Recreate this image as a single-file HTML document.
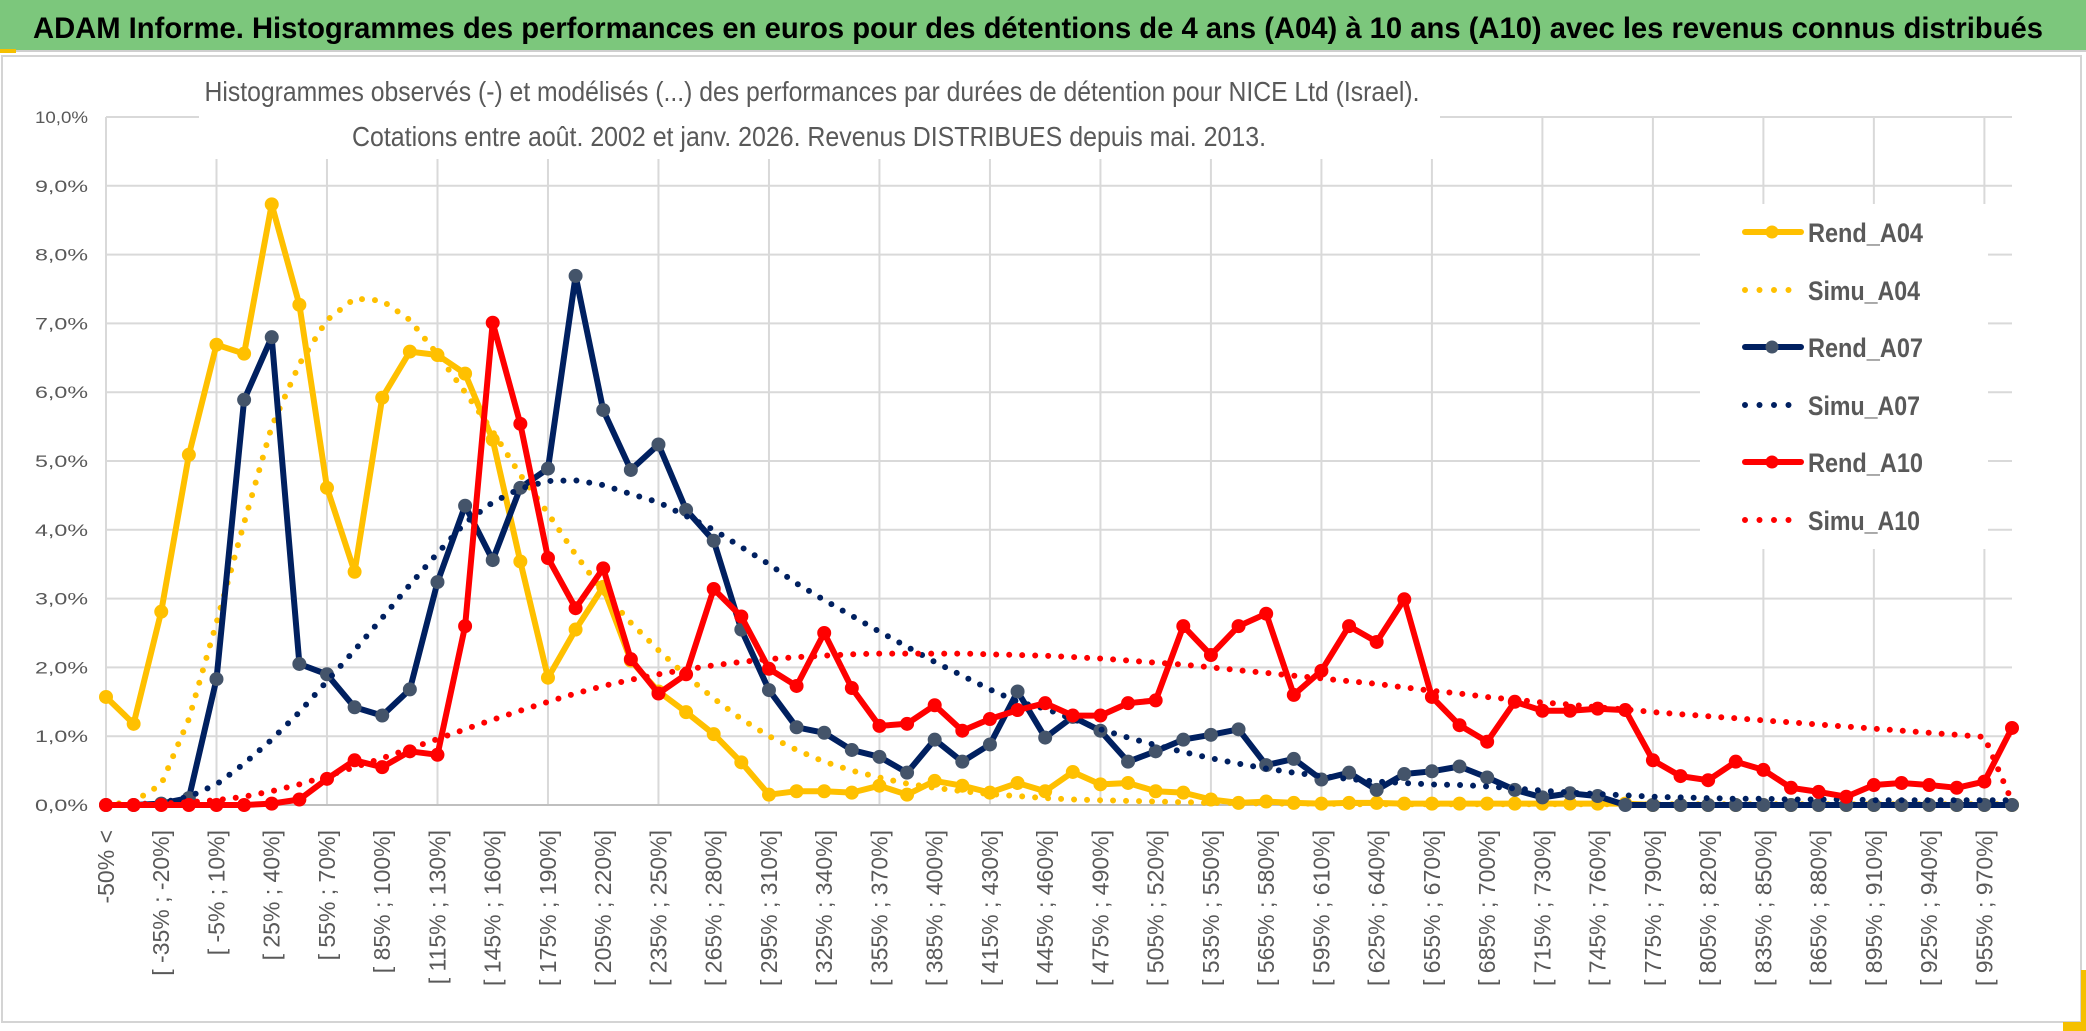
<!DOCTYPE html>
<html><head><meta charset="utf-8"><style>
html,body{margin:0;padding:0;background:#fff;}
svg{display:block;font-family:"Liberation Sans",sans-serif;}
</style></head><body>
<svg id="chart" width="2086" height="1031" viewBox="0 0 2086 1031" xmlns="http://www.w3.org/2000/svg">
<rect x="0" y="0" width="2086" height="1031" fill="#fff"/>
<rect x="0" y="0" width="2086" height="50" fill="#7cc77c"/>
<line x1="0" y1="51" x2="2086" y2="51" stroke="#cfcfcf" stroke-width="2"/>
<rect x="0" y="49" width="16" height="4" fill="#f5c000"/>
<text x="33" y="38" font-size="30" font-weight="bold" fill="#000" textLength="2010" lengthAdjust="spacingAndGlyphs">ADAM Informe. Histogrammes des performances en euros pour des détentions de 4 ans (A04) à 10 ans (A10) avec les revenus connus distribués</text>
<rect x="2" y="56" width="2079" height="966" fill="none" stroke="#d4d4d4" stroke-width="2"/>
<rect x="2081" y="970" width="5" height="58" fill="#f5c000"/>
<rect x="2063" y="1022" width="23" height="9" fill="#f5c000"/>
<g id="grid"></g>
<g id="yaxis"></g>
<g id="xaxis"></g>
<g id="series"></g>
<rect x="199" y="98" width="1241" height="61" fill="#fff"/>
<text x="812" y="101" font-size="28" fill="#595959" text-anchor="middle" textLength="1215" lengthAdjust="spacingAndGlyphs">Histogrammes observés (-) et modélisés (...) des performances par durées de détention pour NICE Ltd (Israel).</text>
<text x="809" y="146" font-size="28" fill="#595959" text-anchor="middle" textLength="914" lengthAdjust="spacingAndGlyphs">Cotations entre août. 2002 et janv. 2026. Revenus DISTRIBUES depuis mai. 2013.</text>
<rect x="1700" y="204" width="288" height="345" fill="#fff"/>
<g id="legend"></g>
</svg>
<script>
const categories = ["-50% <","[ -50% ; -35%]","[ -35% ; -20%]","[ -20% ; -5%]","[ -5% ; 10%]","[ 10% ; 25%]","[ 25% ; 40%]","[ 40% ; 55%]","[ 55% ; 70%]","[ 70% ; 85%]",
"[ 85% ; 100%]","[ 100% ; 115%]","[ 115% ; 130%]","[ 130% ; 145%]","[ 145% ; 160%]","[ 160% ; 175%]","[ 175% ; 190%]","[ 190% ; 205%]","[ 205% ; 220%]","[ 220% ; 235%]",
"[ 235% ; 250%]","[ 250% ; 265%]","[ 265% ; 280%]","[ 280% ; 295%]","[ 295% ; 310%]","[ 310% ; 325%]","[ 325% ; 340%]","[ 340% ; 355%]","[ 355% ; 370%]","[ 370% ; 385%]",
"[ 385% ; 400%]","[ 400% ; 415%]","[ 415% ; 430%]","[ 430% ; 445%]","[ 445% ; 460%]","[ 460% ; 475%]","[ 475% ; 490%]","[ 490% ; 505%]","[ 505% ; 520%]","[ 520% ; 535%]",
"[ 535% ; 550%]","[ 550% ; 565%]","[ 565% ; 580%]","[ 580% ; 595%]","[ 595% ; 610%]","[ 610% ; 625%]","[ 625% ; 640%]","[ 640% ; 655%]","[ 655% ; 670%]","[ 670% ; 685%]",
"[ 685% ; 700%]","[ 700% ; 715%]","[ 715% ; 730%]","[ 730% ; 745%]","[ 745% ; 760%]","[ 760% ; 775%]","[ 775% ; 790%]","[ 790% ; 805%]","[ 805% ; 820%]","[ 820% ; 835%]",
"[ 835% ; 850%]","[ 850% ; 865%]","[ 865% ; 880%]","[ 880% ; 895%]","[ 895% ; 910%]","[ 910% ; 925%]","[ 925% ; 940%]","[ 940% ; 955%]","[ 955% ; 970%]","> 970%"];
const yTicks = [0,1,2,3,4,5,6,7,8,9,10];
const yTickLabels = ["0,0%","1,0%","2,0%","3,0%","4,0%","5,0%","6,0%","7,0%","8,0%","9,0%","10,0%"];
const rendA04 = [1.57,1.18,2.81,5.09,6.69,6.56,8.73,7.27,4.61,3.39,5.92,6.59,6.54,6.27,5.31,3.54,1.85,2.55,3.17,2.10,1.65,1.35,1.03,0.62,0.15,0.20,0.20,0.18,0.28,0.15,0.35,0.28,0.18,0.32,0.20,0.48,0.30,0.32,0.20,0.18,0.08,0.03,0.05,0.03,0.02,0.03,0.03,0.02,0.02,0.02,0.02,0.02,0.02,0.02,0.02,0.02,0,0,0,0,0,0,0,0,0,0,0,0,0,0];
const simuA04 = [0.00,0.05,0.30,1.25,2.65,4.10,5.50,6.41,7.05,7.36,7.33,7.05,6.55,6.00,5.43,4.80,4.24,3.64,3.10,2.65,2.25,1.88,1.55,1.25,1.00,0.80,0.63,0.50,0.40,0.31,0.25,0.20,0.16,0.13,0.10,0.08,0.07,0.06,0.05,0.04,0.03,0.03,0.02,0.02,0.02,0.01,0.01,0.01,0.01,0.01,0.01,0.01,0.01,0.01,0.01,0.01,0.01,0.01,0.01,0.01,0.01,0.01,0.01,0.01,0.01,0.01,0.01,0.01,0.01,0.01];
const rendA07 = [0,0,0.02,0.10,1.83,5.89,6.80,2.05,1.90,1.42,1.30,1.68,3.24,4.35,3.56,4.61,4.89,7.69,5.74,4.87,5.24,4.29,3.84,2.55,1.67,1.13,1.05,0.80,0.70,0.47,0.95,0.63,0.88,1.65,0.98,1.28,1.08,0.63,0.78,0.95,1.02,1.10,0.58,0.67,0.37,0.47,0.22,0.45,0.49,0.56,0.40,0.22,0.11,0.17,0.13,0,0,0,0,0,0,0,0,0,0,0,0,0,0,0];
const simuA07 = [0,0.01,0.03,0.12,0.30,0.60,0.95,1.35,1.80,2.25,2.72,3.20,3.66,4.10,4.40,4.60,4.71,4.72,4.65,4.52,4.40,4.20,4.00,3.75,3.50,3.22,2.98,2.75,2.52,2.30,2.08,1.88,1.68,1.50,1.40,1.25,1.10,0.98,0.87,0.77,0.68,0.60,0.53,0.47,0.42,0.38,0.34,0.32,0.30,0.29,0.27,0.24,0.21,0.18,0.16,0.14,0.12,0.11,0.10,0.09,0.09,0.08,0.08,0.08,0.07,0.07,0.07,0.07,0.07,0.07];
const rendA10 = [0,0,0,0,0,0,0.02,0.08,0.38,0.65,0.55,0.78,0.73,2.60,7.01,5.54,3.59,2.86,3.44,2.12,1.62,1.90,3.14,2.74,1.98,1.73,2.50,1.70,1.15,1.18,1.45,1.08,1.25,1.38,1.48,1.30,1.30,1.48,1.52,2.60,2.18,2.60,2.78,1.60,1.95,2.60,2.37,2.99,1.57,1.16,0.92,1.50,1.37,1.37,1.40,1.38,0.65,0.42,0.36,0.63,0.51,0.25,0.19,0.12,0.29,0.32,0.29,0.25,0.34,1.12];
const simuA10 = [0,0.01,0.02,0.04,0.07,0.12,0.20,0.30,0.42,0.55,0.68,0.82,0.96,1.10,1.24,1.37,1.50,1.62,1.73,1.82,1.90,1.97,2.03,2.08,2.12,2.15,2.17,2.19,2.20,2.20,2.20,2.20,2.19,2.18,2.17,2.15,2.13,2.10,2.07,2.04,2.00,1.96,1.92,1.88,1.84,1.80,1.76,1.71,1.66,1.62,1.57,1.53,1.49,1.46,1.42,1.39,1.35,1.32,1.29,1.26,1.23,1.20,1.17,1.14,1.11,1.08,1.05,1.02,0.99,0.05];
const seriesNames = ["Rend_A04","Simu_A04","Rend_A07","Simu_A07","Rend_A10","Simu_A10"];

const NS = "http://www.w3.org/2000/svg";
const X0 = 106, X1 = 2012, Y0 = 805, Y1 = 117, YMAX = 10;
function xPos(i){ return X0 + (X1 - X0) * i / (categories.length - 1); }
function yPos(v){ return Y0 - (Y0 - Y1) * v / YMAX; }
function mk(tag, attrs, parent){ const e = document.createElementNS(NS, tag); for (const k in attrs) e.setAttribute(k, attrs[k]); parent.appendChild(e); return e; }

const grid = document.getElementById('grid');
yTicks.forEach(t => {
  const l = mk('line', {x1:X0, x2:X1, y1:yPos(t), y2:yPos(t), stroke:'#d9d9d9', 'stroke-width':2}, grid);
  
  
});
for (let i = 4; i < categories.length; i += 4) {
  const l = mk('line', {x1:xPos(i), x2:xPos(i), y1:Y1, y2:Y0, stroke:'#d9d9d9', 'stroke-width':2}, grid);
  
  
}
const ax = mk('line', {x1:X0, x2:X0, y1:Y1, y2:Y0, stroke:'#d9d9d9', 'stroke-width':2}, grid);


const bx = mk('line', {x1:X0, x2:X1, y1:Y0, y2:Y0, stroke:'#bfbfbf', 'stroke-width':2}, grid);



const yax = document.getElementById('yaxis');
yTicks.forEach((t, k) => {
  const tx = mk('text', {x:88, y:yPos(t) + 6, 'font-size':17, fill:'#595959', 'text-anchor':'end', textLength:53, lengthAdjust:'spacingAndGlyphs'}, yax);
  tx.textContent = yTickLabels[k];
  
  
});

const xax = document.getElementById('xaxis');
categories.forEach((c, i) => {
  if (i % 2 !== 0) return;
  const x = xPos(i);
  const tx = mk('text', {x:0, y:0, 'font-size':23, fill:'#595959', 'text-anchor':'end', transform:'translate(' + (x + 8) + ',830) rotate(-90)'}, xax);
  tx.textContent = c;
  
  
});

const sg = document.getElementById('series');
function drawSeries(vals, color, dotted, markerFill, name){
  const g = mk('g', {}, sg);
  
  
  const pts = vals.map((v, i) => xPos(i).toFixed(1) + ',' + yPos(v).toFixed(1)).join(' ');
  const attrs = {points:pts, fill:'none', stroke:color, 'stroke-width':6, 'stroke-linejoin':'round', 'stroke-linecap':'round'};
  if (dotted) { attrs['stroke-dasharray'] = '0 13'; }
  const pl = mk('polyline', attrs, g);
  
  
  if (!dotted) {
    vals.forEach((v, i) => {
      const c = mk('circle', {cx:xPos(i), cy:yPos(v), r:6.5, fill:markerFill, stroke:markerFill, 'stroke-width':1}, g);
      
      
    });
  }
}
drawSeries(rendA04, '#ffc000', false, '#ffc000', 'rend-a04');
drawSeries(simuA04, '#ffc000', true, null, 'simu-a04');
drawSeries(rendA07, '#002060', false, '#44546a', 'rend-a07');
drawSeries(simuA07, '#002060', true, null, 'simu-a07');
drawSeries(rendA10, '#ff0000', false, '#ff0000', 'rend-a10');
drawSeries(simuA10, '#ff0000', true, null, 'simu-a10');

const lg = document.getElementById('legend');
const legColors = ['#ffc000','#ffc000','#002060','#002060','#ff0000','#ff0000'];
const legMarker = ['#ffc000',null,'#44546a',null,'#ff0000',null];
const legY = [232,290,347,405,462,520];
seriesNames.forEach((n, k) => {
  const g = mk('g', {}, lg);
  
  
  const y = legY[k];
  const dotted = (k % 2 === 1);
  const la = {x1:1745, x2:1801, y1:y, y2:y, stroke:legColors[k], 'stroke-width':6, 'stroke-linecap':'round'};
  if (dotted) { la['stroke-dasharray'] = '0 14.5'; la.x2 = (k === 5 ? 1803 : 1789); }
  const l = mk('line', la, g);
  
  
  if (legMarker[k]) {
    const c = mk('circle', {cx:1772, cy:y, r:6.5, fill:legMarker[k]}, g);
    
    
  }
  const t = mk('text', {x:1808, y:y + 10, 'font-size':27, 'font-weight':'bold', fill:'#595959', textLength:(k % 2 === 0 ? 115 : 112), lengthAdjust:'spacingAndGlyphs'}, g);
  t.textContent = n;
  
  
});
</script>
</body></html>
